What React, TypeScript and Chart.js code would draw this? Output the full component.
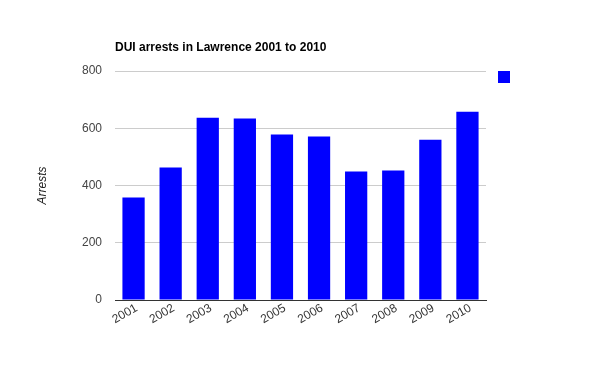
import React, { useEffect, useRef } from "react";
import { Chart, registerables } from "chart.js";

Chart.register(...registerables);

const years = ["2001", "2002", "2003", "2004", "2005", "2006", "2007", "2008", "2009", "2010"];
const arrests = [358, 463, 637, 634, 578, 571, 449, 452, 560, 658];
const chartTitle = "DUI arrests in Lawrence 2001 to 2010";
const yAxisTitle = "Arrests";
const yTicks = [0, 200, 400, 600, 800];

const FONT = "'Liberation Sans', Arial, sans-serif";

const extrasPlugin = {
  id: "extras",
  afterDraw(chart: any) {
    const ctx = chart.ctx;
    const area = chart.chartArea;
    ctx.save();
    ctx.fillStyle = "#000";
    ctx.font = `bold 12px ${FONT}`;
    ctx.textAlign = "left";
    ctx.textBaseline = "alphabetic";
    ctx.fillText(chartTitle, area.left, 51);
    const ds = chart.data.datasets[0];
    ctx.fillStyle = ds.backgroundColor;
    ctx.fillRect(area.right + 12, area.top, 12, 12);
    ctx.restore();
  },
};

export default function App() {
  const ref = useRef<HTMLCanvasElement | null>(null);
  useEffect(() => {
    if (!ref.current) return;
    const chart = new Chart(ref.current, {
      type: "bar",
      data: {
        labels: years,
        datasets: [
          {
            label: "",
            data: arrests,
            backgroundColor: "#0000ff",
            borderWidth: 0,
            barPercentage: 0.6,
            categoryPercentage: 1,
          },
        ],
      },
      plugins: [extrasPlugin],
      options: {
        animation: false,
        responsive: false,
        maintainAspectRatio: false,
        layout: { padding: { top: 71, right: 114, left: 0, bottom: 0 } },
        plugins: {
          legend: { display: false },
          title: { display: false },
          tooltip: { enabled: false },
        },
        scales: {
          x: {
            grid: { display: false, drawTicks: false },
            border: { display: true, color: "#333", width: 1 },
            ticks: {
              color: "#333",
              font: { family: FONT, size: 12 },
              minRotation: 30,
              maxRotation: 30,
              padding: 1,
              labelOffset: 3,
            },
            afterFit: (s: any) => {
              s.height = 71;
            },
          },
          y: {
            min: 0,
            max: 800,
            afterBuildTicks: (s: any) => {
              s.ticks = yTicks.map((v) => ({ value: v }));
            },
            grid: { color: "#cccccc", drawTicks: false, lineWidth: 1 },
            border: { display: false },
            ticks: {
              color: "#444",
              font: { family: FONT, size: 12 },
              padding: 13,
            },
            title: {
              display: true,
              text: yAxisTitle,
              color: "#222",
              font: { family: FONT, size: 12, style: "italic" },
              padding: { top: 35, bottom: 0 },
            },
            afterFit: (s: any) => {
              s.width = 115;
            },
          },
        },
      },
    });
    return () => chart.destroy();
  }, []);
  return (
    <div style={{ position: "absolute", left: 0, top: 0, width: 600, height: 371, background: "#fff" }}>
      <canvas ref={ref} width={600} height={371} style={{ display: "block", width: 600, height: 371 }} />
    </div>
  );
}
